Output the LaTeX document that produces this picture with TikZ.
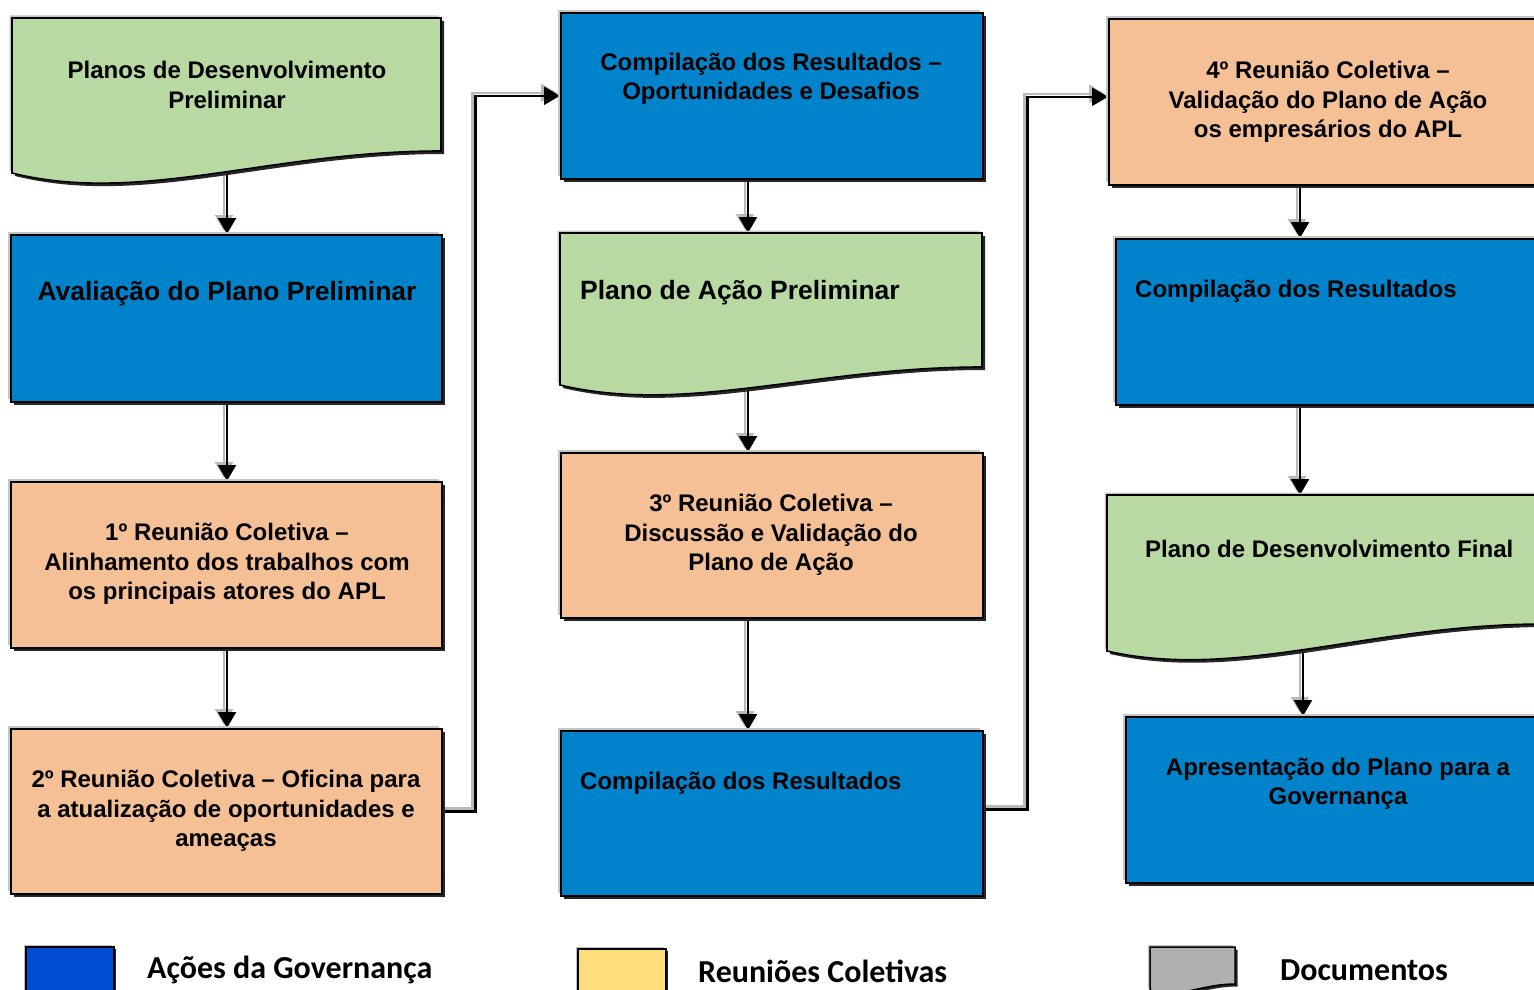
\documentclass[tikz,border=0pt]{standalone}
\usepackage{fontspec}
\setmainfont{Liberation Sans}
\newfontfamily\legfont{Carlito}
\usetikzlibrary{shadows,arrows.meta,backgrounds}
\definecolor{govblue}{RGB}{0,131,202}
\definecolor{docgreen}{RGB}{184,217,162}
\definecolor{meetorange}{RGB}{246,192,150}
\definecolor{legblue}{RGB}{0,77,210}
\definecolor{legyellow}{RGB}{255,221,122}
\definecolor{leggray}{RGB}{176,176,176}
\tikzset{
  boxshadow/.style={general shadow={fill=gray!45, shadow xshift=-2.5pt, shadow yshift=2.5pt},
                    general shadow={fill=black!85, shadow xshift=3pt, shadow yshift=-3pt}},
  fbox/.style={draw=black, line width=1.6pt, boxshadow, inner sep=0pt, anchor=north west},
  gov/.style={fbox, fill=govblue},
  meet/.style={fbox, fill=meetorange},
  docarea/.style={inner sep=0pt, anchor=north west},
  doc/.style={draw=black, line width=1.6pt, fill=docgreen, boxshadow},
  txt/.style={font=\bfseries\fontsize{24}{29.5}\selectfont, align=center, inner sep=0pt},
  bigtxt/.style={font=\bfseries\fontsize{26.5}{31}\selectfont, inner sep=0pt},
  arr/.style={line width=2.6pt, -{Triangle[length=16pt,width=18pt]},
              preaction={draw=gray!55, line width=2.4pt, -{Triangle[length=16pt,width=18pt]}, transform canvas={shift={(-3pt,3pt)}}}},
  legtxt/.style={font=\legfont\bfseries\fontsize{32}{38}\selectfont, anchor=west, inner sep=0pt},
  legshadow/.style={general shadow={fill=gray!50, shadow xshift=-2pt, shadow yshift=2pt},
                    general shadow={fill=black!85, shadow xshift=2.5pt, shadow yshift=-2.5pt}},
}
% #1 x1, #2 y1, #3 x2, #4 y left bottom, #5 y right bottom, #6 dip
\newcommand\docshape[6]{(#1,#2) -- (#3,#2) -- (#3,#5) .. controls ({#3-0.4*(#3-#1)},{#5}) and ({#1+0.3*(#3-#1)},{#4+#6}) .. (#1,#4) -- cycle}
\begin{document}
\begin{tikzpicture}[x=1pt,y=-1pt]
\useasboundingbox (0,0) rectangle (1534,990);
\clip (0,0) rectangle (1534,990);
\coordinate (xa) at (227,0);
\coordinate (xb) at (748,0);
\coordinate (xc) at (1300,0);
\coordinate (xd) at (1303,0);

% ---- column 1
\path[doc] \docshape{12}{18}{441}{173}{151}{32};
\node[docarea, minimum width=429pt, minimum height=155pt] (B1) at (12,18) {};
\node[txt] (B1t) at (227,85) {Planos de Desenvolvimento\\Preliminar};
\node[gov, minimum width=431pt, minimum height=167pt] (B2) at (10,234) {};
\node[bigtxt] (B2t) at (227,294) {Avaliação do Plano Preliminar};
\node[meet, minimum width=431pt, minimum height=166pt] (B3) at (10,481) {};
\node[txt] (B3t) at (227,564) {1º Reunião Coletiva –\\Alinhamento dos trabalhos com\\os principais atores do APL};
\node[meet, minimum width=431pt, minimum height=165pt] (B4) at (10,728) {};
\node[txt] (B4t) at (226,811) {2º Reunião Coletiva – Oficina para\\a atualização de oportunidades e\\ameaças};

% ---- column 2
\node[gov, minimum width=422pt, minimum height=166pt] (C1) at (560,12) {};
\node[txt] (C1t) at (771,79) {Compilação dos Resultados –\\Oportunidades e Desafios};
\path[doc] \docshape{560}{233}{982}{385}{367}{30};
\node[docarea, minimum width=422pt, minimum height=152pt] (C2) at (560,233) {};
\node[bigtxt, anchor=west] (C2t) at (580,293) {Plano de Ação Preliminar};
\node[meet, minimum width=422pt, minimum height=165pt] (C3) at (560,452) {};
\node[txt] (C3t) at (771,535) {3º Reunião Coletiva –\\Discussão e Validação do\\Plano de Ação};
\node[gov, minimum width=422pt, minimum height=165pt] (C4) at (560,730) {};
\node[txt, anchor=west] (C4t) at (580,783) {Compilação dos Resultados};

% ---- column 3
\node[meet, minimum width=437pt, minimum height=166pt] (D1) at (1108,18) {};
\node[txt] (D1t) at (1328,102) {4º Reunião Coletiva –\\Validação do Plano de Ação\\os empresários do APL};
\node[gov, minimum width=430pt, minimum height=166pt] (D2) at (1115,238) {};
\node[txt, anchor=west] (D2t) at (1135,291) {Compilação dos Resultados};
\path[doc] \docshape{1107}{495}{1545}{651}{624}{30};
\node[docarea, minimum width=438pt, minimum height=156pt] (D3) at (1107,495) {};
\node[txt, anchor=west] (D3t) at (1145,549) {Plano de Desenvolvimento Final};
\node[gov, minimum width=420pt, minimum height=166pt] (D4) at (1125,716) {};
\node[txt] (D4t) at (1338,784) {Apresentação do Plano para a\\Governança};

% ---- legend
\node[draw=black, line width=1.5pt, fill=legblue, legshadow, inner sep=0pt, anchor=north west,
      minimum width=88pt, minimum height=60pt] (L1) at (25,946) {};
\node[legtxt] (L1t) at (147,970) {Ações da Governança};
\node[draw=black, line width=1.5pt, fill=legyellow, legshadow, inner sep=0pt, anchor=north west,
      minimum width=88pt, minimum height=60pt] (L2) at (577,948) {};
\node[legtxt] (L2t) at (698,971) {Reuniões Coletivas};
\path[draw=black, line width=1.5pt, fill=leggray, legshadow] \docshape{1150}{947}{1235}{990}{984}{10};
\node[docarea, minimum width=85pt, minimum height=40pt] (L3) at (1150,947) {};
\node[legtxt] (L3t) at (1280,970) {Documentos};

% ---- connectors
\begin{pgfonlayer}{background}
\draw[arr] (B1.center -| xa) -- (B2.north -| xa);
\draw[arr] (B2.south -| xa) -- (B3.north -| xa);
\draw[arr] (B3.south -| xa) -- (B4.north -| xa);
\draw[arr] (C1.south -| xb) -- (C2.north -| xb);
\draw[arr] (C2.center -| xb) -- (C3.north -| xb);
\draw[arr] (C3.south -| xb) -- (C4.north -| xb);
\draw[arr] (D1.south -| xc) -- (D2.north -| xc);
\draw[arr] (D2.south -| xc) -- (D3.north -| xc);
\draw[arr] (D3.center -| xd) -- (D4.north -| xd);
\draw[arr] (B4.east) -- ++(33,0) |- (C1.west);
\draw[arr] ([yshift=4pt]C4.east) -- ++(44,0) |- ([yshift=5pt]D1.west);
\end{pgfonlayer}
\end{tikzpicture}
\end{document}
